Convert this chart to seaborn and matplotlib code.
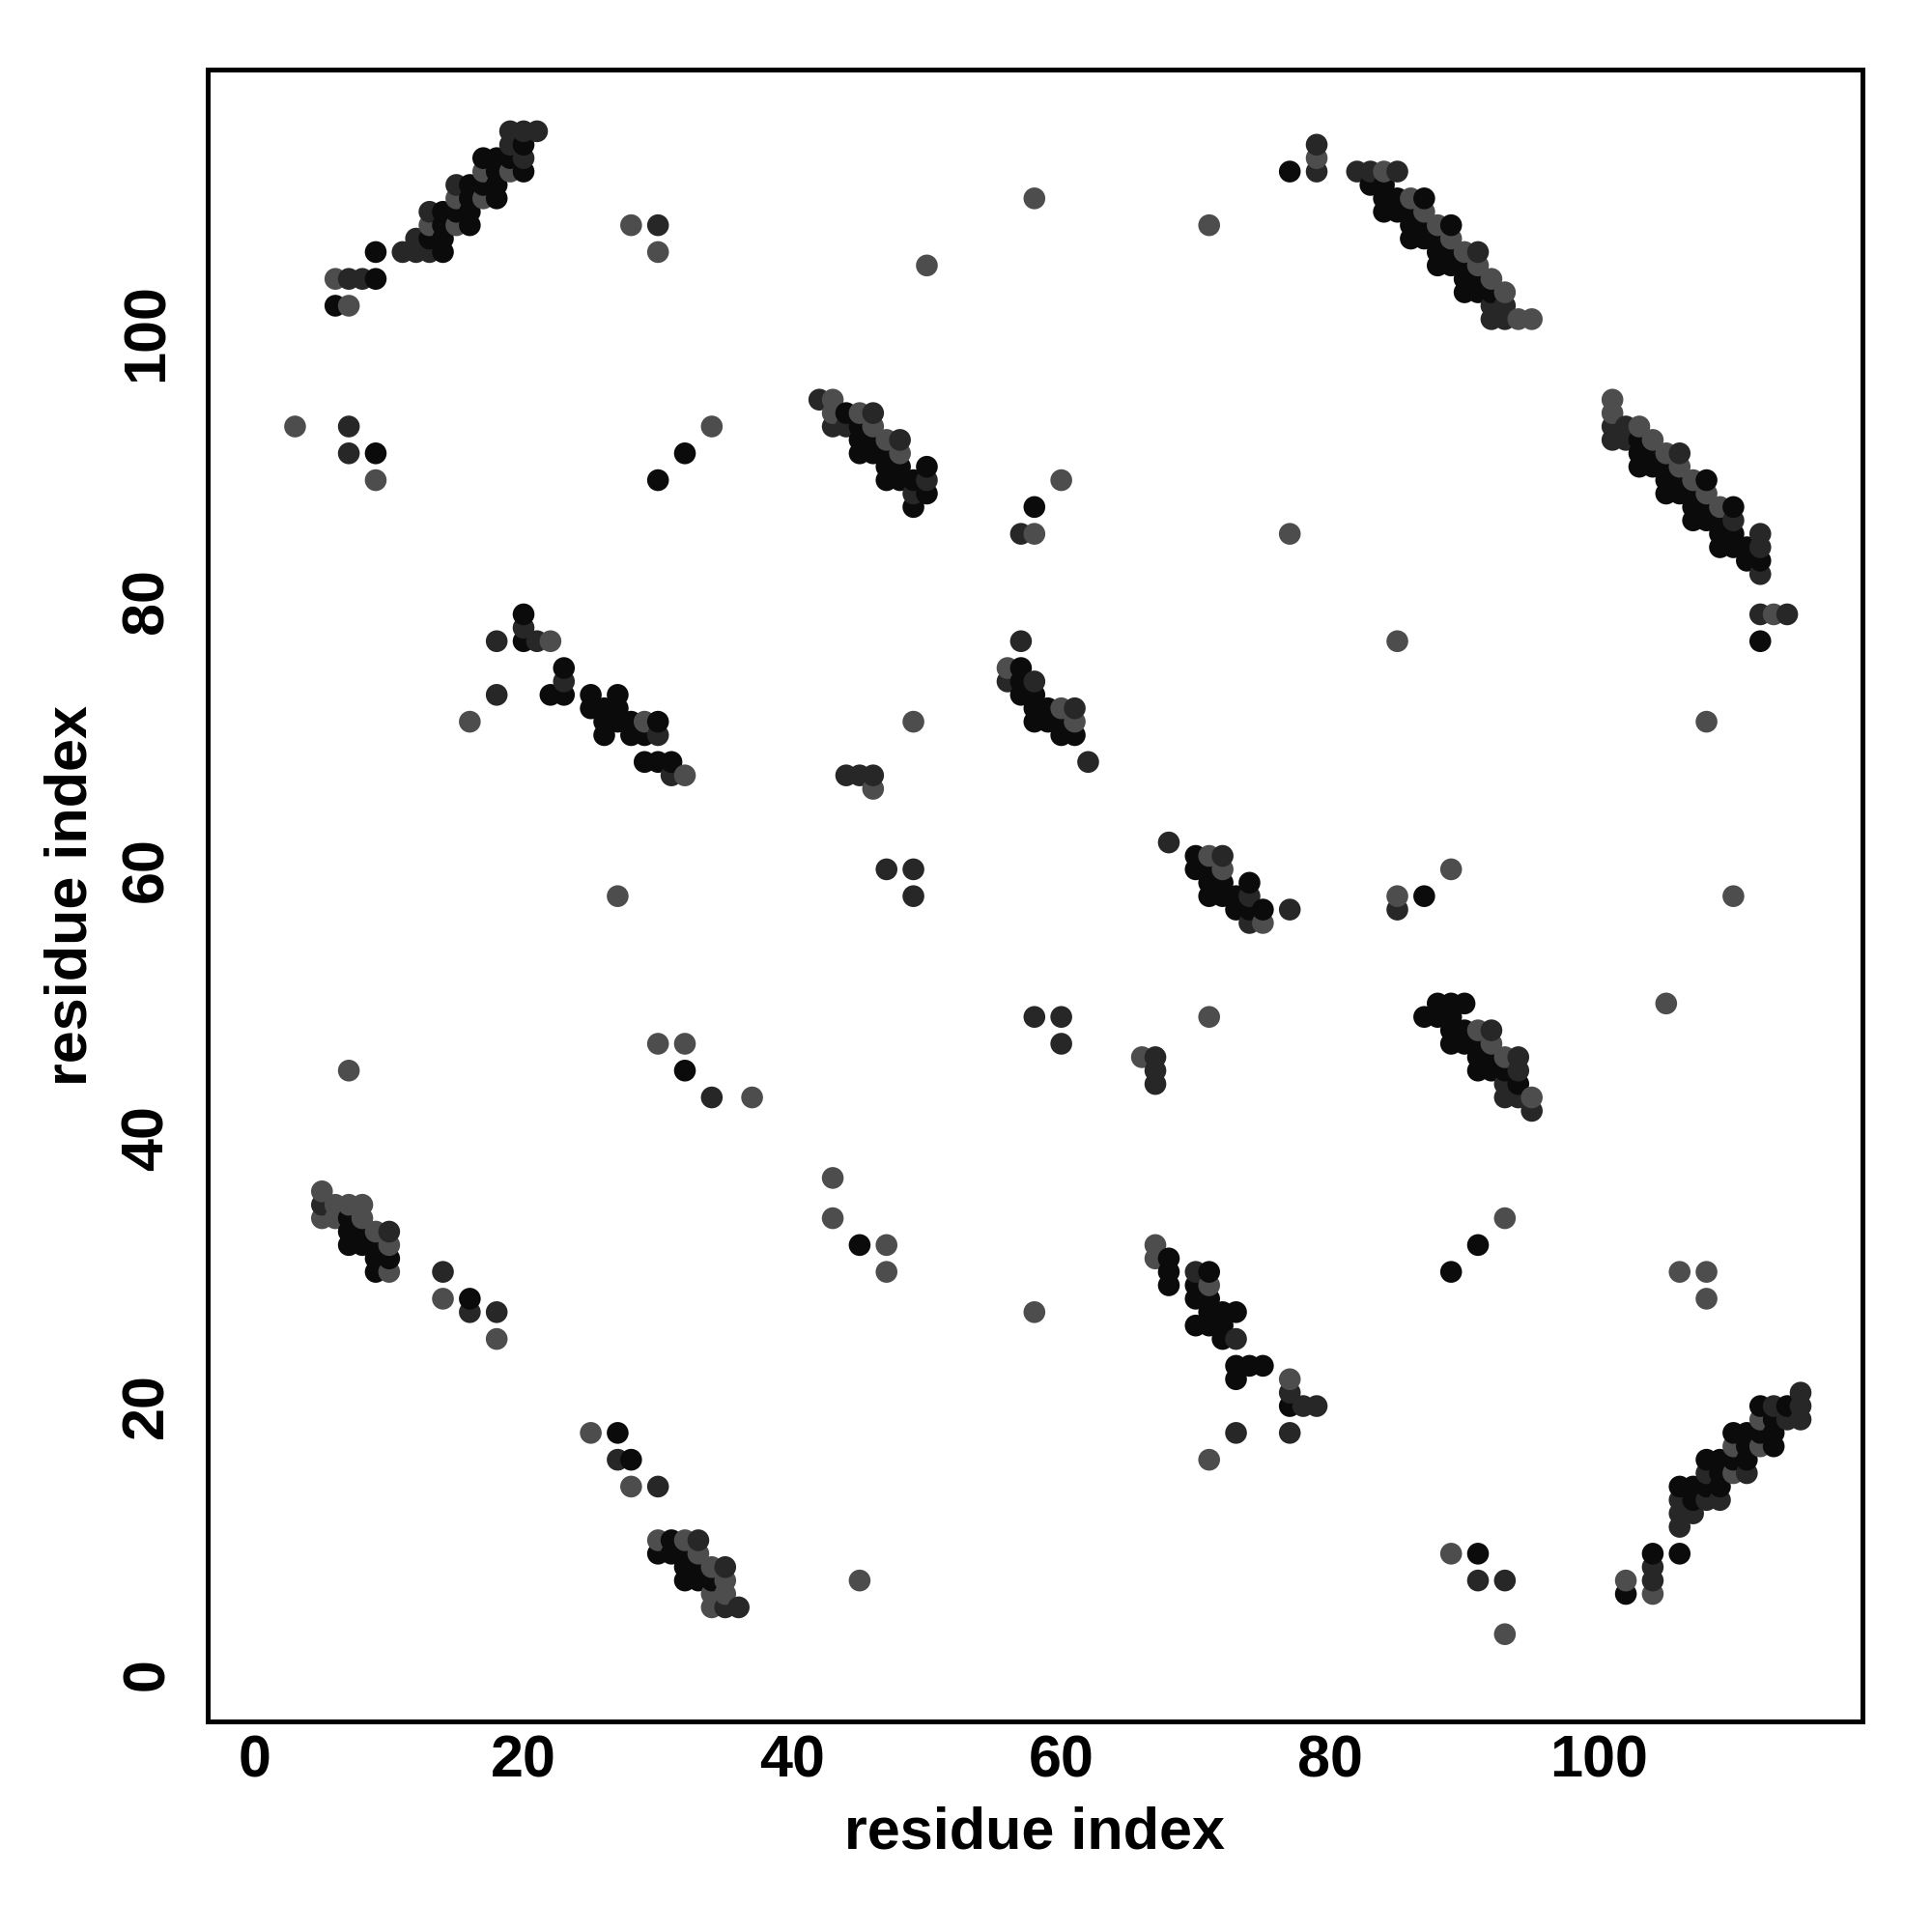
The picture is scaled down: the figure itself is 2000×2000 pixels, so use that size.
import matplotlib
matplotlib.use("Agg")
import matplotlib.pyplot as plt
import seaborn as sns
import pandas as pd

# contacts (residue i, residue j) grouped by strength level
strong_contacts = [
    (20,114),(17,113),(18,113),(19,113),(18,112),(20,112),(16,111),(17,111),(18,111),(16,110),(18,110),
    (14,109),(15,109),(16,109),(14,108),(16,108),(13,107),(14,107),(9,106),(14,106),(9,104),(6,102),(9,91),(20,79),
    (44,94),(45,93),(45,92),(46,92),(32,91),(45,91),(46,91),(47,91),(47,90),(48,90),(50,90),(30,89),(47,89),
    (48,89),(49,89),(50,88),(49,87),(58,87),
    (77,112),(83,111),(84,111),(84,110),(85,110),(87,110),(84,109),(85,109),(86,109),(86,108),(87,108),(89,108),
    (86,107),(87,107),(88,107),(88,106),(89,106),(88,105),(89,105),
    (90,105),(90,104),(91,104),(90,103),(91,103),(92,103),(103,92),(103,91),(104,91),(103,90),(104,90),(105,90),
    (105,89),(106,89),(108,89),(105,88),(106,88),(107,88),(107,87),(108,87),(110,87),(107,86),(108,86),(109,86),
    (109,85),(110,85),(109,84),(110,84),(111,84),(111,83),(112,83),(112,77),
    (20,77),(23,75),(22,73),(23,73),(25,73),(27,73),(25,72),(26,72),(27,72),(26,71),(27,71),(26,70),(28,71),
    (30,71),(28,70),(29,70),(29,68),(30,68),(31,68),
    (57,75),(57,74),(57,73),(58,73),(58,72),(59,72),(58,71),(59,71),(60,71),(60,70),(61,70),(32,45),
    (70,61),(70,60),(71,60),(71,59),(72,59),(74,59),(71,58),(72,58),(73,58),(73,57),(74,57),(75,57),(87,58),
    (87,49),(88,49),(89,49),(88,50),(89,50),(90,50),(89,48),(90,48),(89,47),(90,47),(91,47),(91,46),(92,46),
    (91,45),(92,45),(93,45),(94,44),
    (7,34),(7,33),(8,33),(7,32),(8,32),(9,32),(9,31),(10,31),(9,30),(16,28),(27,18),(28,16),(45,32),
    (31,10),(30,9),(31,9),(32,9),(32,8),(33,8),(32,7),(33,7),(34,7),
    (68,31),(68,30),(71,30),(68,29),(70,29),(70,28),(71,28),(71,27),(72,27),(73,27),(70,26),(71,26),(72,26),
    (72,25),(73,23),(74,23),(75,23),(73,22),(77,20),
    (89,30),(91,32),(112,20),(114,20),(113,19),(110,18),(111,18),(112,18),(113,18),(111,17),(113,17),(108,16),
    (109,16),(110,16),(111,16),(109,15),(106,14),(107,14),(108,14),(109,14),(107,13),(91,9),(104,9),(106,9),(102,6),
]

medium_contacts = [
    (19,115),(20,115),(21,115),(19,114),(20,113),(15,111),(13,109),(12,107),(11,106),(12,106),(13,106),
    (7,104),(8,104),(7,93),(7,91),
    (30,108),(42,95),(46,94),(43,93),(44,93),(48,92),(50,89),(49,88),(57,85),
    (79,114),(79,112),(82,112),(83,112),(85,112),
    (91,106),(92,102),(93,102),(92,101),(93,101),(101,93),(102,93),(101,92),(102,92),(106,91),(110,86),
    (112,85),(112,84),(112,82),(112,79),(114,79),
    (20,78),(18,77),(21,77),(23,74),(18,73),(30,70),(31,67),
    (57,77),(56,74),(58,74),(61,72),(62,68),(44,67),(45,67),(46,67),(47,60),(49,60),(49,58),(58,49),(60,49),
    (60,47),(34,43),
    (68,62),(72,61),(74,58),(77,57),(74,56),(85,57),(67,46),(67,45),(67,44),
    (92,48),(94,46),(94,45),(93,44),(93,43),(94,43),(95,42),
    (5,35),(10,33),(14,30),(16,27),(18,27),(27,16),(30,14),(33,10),(35,8),(35,5),(36,5),
    (70,30),(73,25),(77,21),(78,20),(79,20),(73,18),(77,18),
    (115,21),(113,20),(115,20),(114,19),(115,19),(108,15),(111,15),(106,13),(108,13),(109,13),(106,12),
    (107,12),(106,11),(104,8),(91,7),(93,7),(104,7),
]

weak_contacts = [
    (17,112),(19,112),(15,110),(17,110),(13,108),(15,108),(6,104),(7,102),(3,93),(9,89),
    (58,110),(28,108),(30,106),(50,105),(43,95),(43,94),(45,94),(34,93),(46,93),(47,92),(48,91),(58,85),
    (79,113),(84,112),(86,110),(87,109),(71,108),(88,108),(89,107),(60,89),(77,85),
    (90,106),(91,105),(92,104),(93,103),(94,101),(95,101),(101,95),(101,94),(103,93),(104,92),(105,91),
    (106,90),(107,89),(108,88),(109,87),(113,79),
    (22,77),(16,71),(27,58),(7,45),(29,71),(32,67),
    (56,75),(60,72),(49,71),(61,71),(46,66),(30,47),(32,47),(37,43),
    (85,77),(71,61),(72,60),(75,56),(85,58),(89,60),(71,49),(66,46),
    (108,71),(110,58),(105,50),(91,48),(92,47),(93,46),(95,43),
    (5,36),(6,35),(7,35),(8,35),(5,34),(6,34),(8,34),(9,33),(10,32),(10,30),(14,28),(18,25),(25,18),(28,14),
    (43,37),(43,34),(47,32),(47,30),(58,27),
    (30,10),(32,10),(33,9),(34,8),(35,7),(34,6),(35,6),(34,5),(45,7),
    (67,32),(67,31),(71,29),(77,22),(71,16),
    (93,34),(106,30),(108,30),(108,28),(112,19),(110,17),(112,17),(110,15),(89,9),(102,7),(104,6),(93,3),
]

tick_values = [0, 20, 40, 60, 80, 100]
axis_label = "residue index"
level_colors = {"weak": "#4d4d4d", "medium": "#272727", "strong": "#0b0b0b"}

rows = []
for lvl, pts in (("weak", weak_contacts), ("medium", medium_contacts), ("strong", strong_contacts)):
    for i, j in pts:
        rows.append((i, j, lvl))
df = pd.DataFrame(rows, columns=["i", "j", "level"])
df = df.sort_values(["i", "j"], kind="stable").reset_index(drop=True)

sns.set_theme(style="white")
plt.rcParams["font.family"] = ["Liberation Sans", "DejaVu Sans"]
plt.rcParams["font.weight"] = "bold"
for key in ("text.color", "axes.labelcolor", "xtick.color", "ytick.color", "axes.edgecolor"):
    plt.rcParams[key] = "black"

fig = plt.figure(figsize=(10, 10), dpi=200)
ax = fig.add_axes([0.1075, 0.109, 0.8565, 0.855])
sns.scatterplot(data=df, x="i", y="j", hue="level", palette=level_colors,
                s=66, linewidth=0, legend=False, ax=ax)

ax.set_xlim(-3.5, 119.6)
ax.set_ylim(-3.5, 119.6)
ax.set_xticks(tick_values)
ax.set_yticks(tick_values)
ax.set_xticklabels([str(v) for v in tick_values], fontsize=22, fontweight="bold", color="black")
ax.set_yticklabels([str(v) for v in tick_values], fontsize=22, fontweight="bold", color="black",
                   rotation=90, va="center")
ax.tick_params(axis="both", direction="out", length=4, width=1.5, color="black")
ax.tick_params(axis="x", pad=1)
ax.tick_params(axis="y", pad=8)
for sp in ax.spines.values():
    sp.set_visible(True)
    sp.set_color("black")
    sp.set_linewidth(1.8)
ax.set_xlabel(axis_label, fontsize=22, fontweight="bold", labelpad=6, color="black")
ax.set_ylabel(axis_label, fontsize=22, fontweight="bold", labelpad=8, color="black")
ax.grid(False)

fig.savefig("out.png", dpi=200, facecolor="white")
